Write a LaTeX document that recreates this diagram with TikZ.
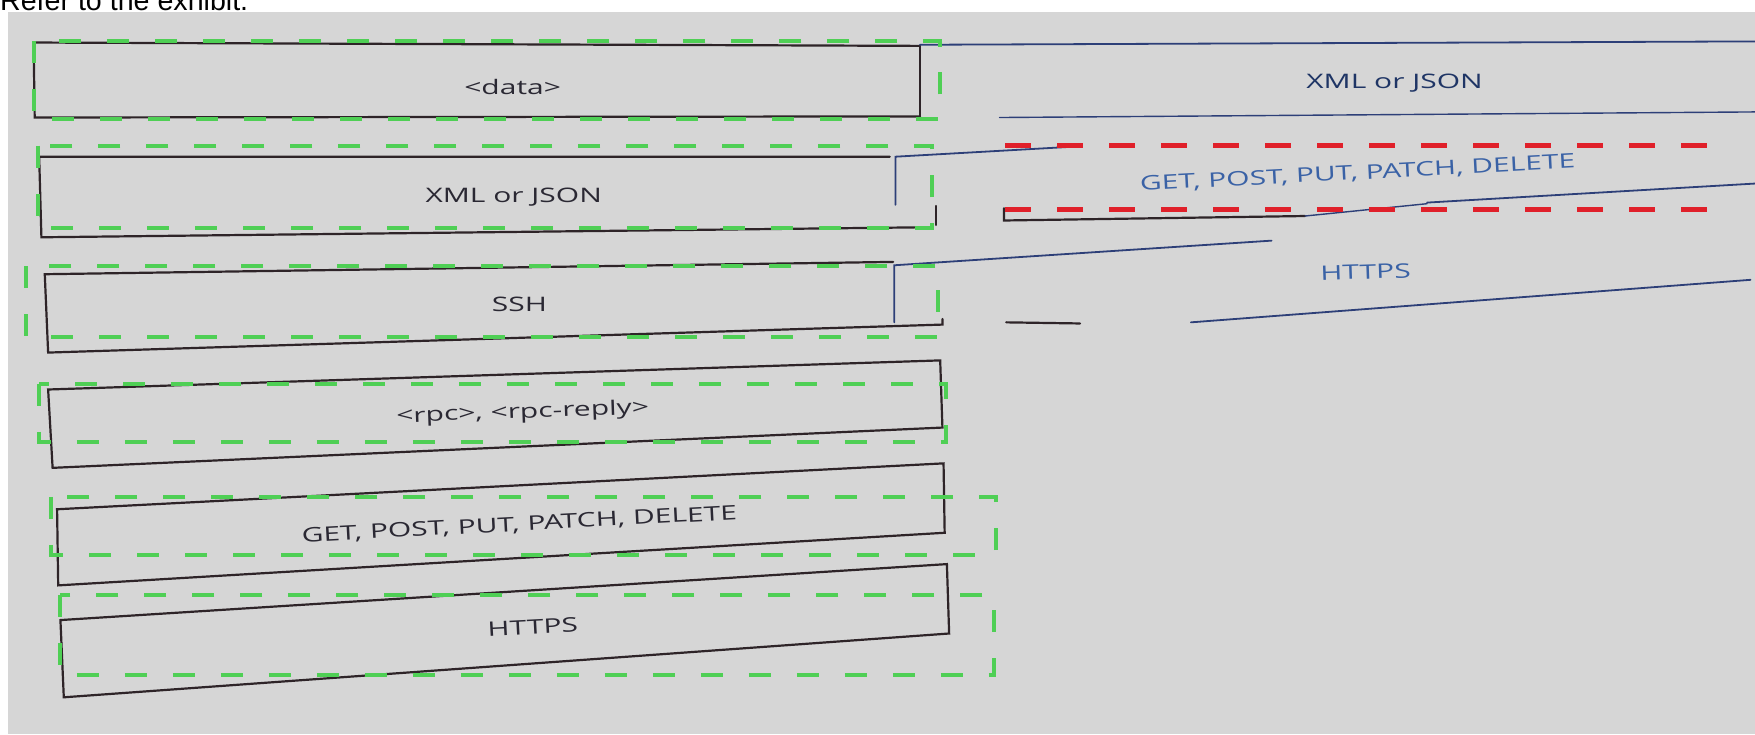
\documentclass[tikz,border=0pt]{standalone}
\usepackage{fontspec}
\setmainfont{Open Sans}
\newfontfamily\arialf{Liberation Sans}
\usepackage{graphicx}
\definecolor{bg}{HTML}{D6D6D6}
\definecolor{dk}{HTML}{2E2428}
\definecolor{bl}{HTML}{2D3F78}
\definecolor{gr}{HTML}{4FCF55}
\definecolor{rd}{HTML}{E0202A}
\definecolor{ltx}{HTML}{2A2833}
\definecolor{rtx}{HTML}{3A62A6}
\definecolor{rtxd}{HTML}{1F3565}
\newcommand\stretchtxt[1]{\scalebox{1.5}[1]{#1}}
\begin{document}
\begin{tikzpicture}[x=1.1193pt,y=-1.1193pt,
  dkline/.style={draw=dk,line width=2.2pt,line cap=round},
  blline/.style={draw=bl,line width=1.8pt,line cap=round},
  gdash/.style={draw=gr,line width=4pt,dash pattern=on 22pt off 26pt},
  rdash/.style={draw=rd,line width=5pt,dash pattern=on 26pt off 26pt},
  lab/.style={font=\fontsize{20}{22}\selectfont,text=ltx,inner sep=0pt},
  rlab/.style={font=\fontsize{20}{22}\selectfont,text=rtx,inner sep=0pt}]
\useasboundingbox (0,0) rectangle (1568,656);
\fill[bg] (7,11) rectangle (1568,656);
\node[anchor=base west,font=\arialf\fontsize{28.6}{30}\selectfont,inner sep=0pt] (refer) at (0,9) {Refer to the exhibit.};

% ---- left column boxes ----
% row 1
\draw[dkline] (822,41) -- (30,38) -- (31,105) -- (822,104);
% row 2
\draw[dkline] (795,140) -- (35,140) -- (37,212) -- (832,203);
\draw[dkline] (836,184) -- (836,201);
% row 3
\draw[dkline] (798,234) -- (40,245) -- (43,315) -- (842,290) -- (842,285);
% row 4
\draw[dkline] (43,348) -- (840,322) -- (842,382) -- (47,418) -- cycle;
% row 5
\draw[dkline] (51,455) -- (843,414) -- (844,476) -- (52,523) -- cycle;
% row 6
\draw[dkline] (54,554) -- (846,504) -- (848,566) -- (57,623) -- cycle;

% ---- right column ----
\draw[dkline] (822,41) -- (822,104);
\draw[blline] (822,40) -- (1568,37);
\draw[blline,line width=1.4pt] (893,105) -- (1568,100);
\draw[blline] (960,131) -- (800,140) -- (800,183);
\draw[dkline] (897,186) -- (897,197) -- (1166,193);
\draw[blline,line width=1.4pt] (1166,193) -- (1275,182);
\draw[blline] (1275,181) -- (1568,164);
\draw[blline] (1136,215) -- (799,237) -- (799,288);
\draw[dkline] (899,288) -- (965,289);
\draw[blline] (1064,288) -- (1564,250);

% ---- green dashed drop zones ----
\draw[gdash] (30,37) rectangle (840,106);
\draw[gdash] (34,130) rectangle (833,204);
\draw[gdash] (23,238) rectangle (838,301);
\draw[gdash] (35,343) rectangle (845,395);
\draw[gdash] (46,444) rectangle (890,496);
\draw[gdash] (54,532) rectangle (888,603);

% ---- red dashed ----
\draw[rdash] (898,130) -- (1536,130);
\draw[rdash] (898,187) -- (1536,187);

% ---- labels ----
\node[lab] (l1) at (458,78) {\stretchtxt{<data>}};
\node[lab] (l2) at (459,176) {\stretchtxt{XML or JSON}};
\node[lab] (l3) at (464,272) {\stretchtxt{SSH}};
\node[lab,rotate=2] (l4) at (467,369) {\stretchtxt{<rpc>, <rpc-reply>}};
\node[lab,rotate=3] (l5) at (464,469) {\stretchtxt{GET, POST, PUT, PATCH, DELETE}};
\node[lab,rotate=3] (l6) at (476,560) {\stretchtxt{HTTPS}};
\node[rlab,text=rtxd] (r1) at (1246,74) {\stretchtxt{XML or JSON}};
\node[rlab,rotate=3] (r2) at (1213,155) {\stretchtxt{GET, POST, PUT, PATCH, DELETE}};
\node[rlab,rotate=2] (r3) at (1220,243) {\stretchtxt{HTTPS}};
\end{tikzpicture}
\end{document}
